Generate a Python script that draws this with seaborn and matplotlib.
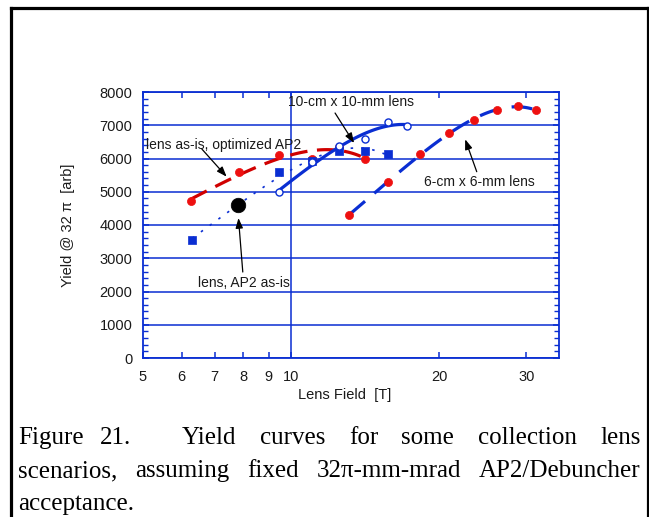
import numpy as np
import pandas as pd
import matplotlib
matplotlib.use("Agg")
import matplotlib.pyplot as plt
import seaborn as sns
from matplotlib.lines import Line2D
from matplotlib.ticker import FixedLocator, FixedFormatter, MultipleLocator, NullFormatter

# ---------------- data ----------------
opt_field = [6.27, 7.85, 9.46, 11.05, 12.53, 14.15]          # lens as-is, optimized AP2
opt_yield = [4720, 5600, 6100, 6000, 6350, 6000]
ten_field = [9.46, 11.05, 12.53, 14.15, 15.7, 17.2]          # 10-cm x 10-mm lens
ten_yield = [5000, 5900, 6380, 6580, 7110, 6990]
ap2_field = [6.3, 9.46, 11.05, 12.53, 14.15, 15.7]           # AP2 as-is scan
ap2_yield = [3560, 5580, 5930, 6230, 6230, 6150]
six_field = [13.12, 15.7, 18.3, 20.9, 23.5, 26.2, 28.8, 31.4]  # 6-cm x 6-mm lens
six_yield = [4300, 5300, 6130, 6770, 7160, 7460, 7580, 7450]
asis_field = [7.82]                                            # lens, AP2 as-is
asis_yield = [4600]

x_major_ticks = [10]
x_minor_ticks = [5, 6, 7, 8, 9, 20, 30]
x_minor_labels = ["5", "6", "7", "8", "9", "20", "30"]
y_ticks = [0, 1000, 2000, 3000, 4000, 5000, 6000, 7000, 8000]

BLUE = "#0A2ED2"
RED_LINE = "#D00000"
RED_DOT = "#EE1010"

sns.set_style("white")
plt.rcParams["font.family"] = ["Liberation Sans", "DejaVu Sans"]

W, H = 649, 517
fig = plt.figure(figsize=(W / 100, H / 100), dpi=100)
ax_l, ax_r, ax_t, ax_b = 142.7, 559.3, 92.0, 358.0
ax = fig.add_axes([ax_l / W, 1 - ax_b / H, (ax_r - ax_l) / W, (ax_b - ax_t) / H])
ax.set_xscale("log")
ax.set_xlim(5, 35)
ax.set_ylim(0, 8000)

# trend lines (polynomial fits, as in the original)
sns.regplot(x=np.array(opt_field), y=np.array(opt_yield), order=2, ci=None, scatter=False,
            truncate=True, ax=ax,
            line_kws=dict(color=RED_LINE, lw=2.3, ls=(0, (5.5, 3)), zorder=3))
sns.regplot(x=np.array(ap2_field), y=np.array(ap2_yield), order=2, ci=None, scatter=False,
            truncate=True, ax=ax,
            line_kws=dict(color=BLUE, lw=1.2, ls=(0, (1.5, 5)), zorder=3))
sns.regplot(x=np.array(ten_field), y=np.array(ten_yield), order=2, ci=None, scatter=False,
            truncate=True, ax=ax,
            line_kws=dict(color=BLUE, lw=2.3, ls="-", zorder=4))
sns.regplot(x=np.array(six_field), y=np.array(six_yield), order=2, ci=None, scatter=False,
            truncate=True, ax=ax,
            line_kws=dict(color=BLUE, lw=2.3, ls=(0, (6.5, 3.8)), zorder=4))

# markers
sns.scatterplot(x=opt_field, y=opt_yield, ax=ax, color=RED_DOT, marker="o", s=34,
                edgecolor=RED_DOT, linewidth=0.5, zorder=5)
sns.scatterplot(x=ap2_field, y=ap2_yield, ax=ax, color=BLUE, marker="s", s=38,
                edgecolor=BLUE, linewidth=0.5, zorder=6)
sns.scatterplot(x=ten_field, y=ten_yield, ax=ax, facecolor="white", marker="o", s=26,
                edgecolor=BLUE, linewidth=1.0, zorder=7)
sns.scatterplot(x=six_field, y=six_yield, ax=ax, color=RED_DOT, marker="o", s=34,
                edgecolor=RED_DOT, linewidth=0.5, zorder=6)
sns.scatterplot(x=asis_field, y=asis_yield, ax=ax, color="black", marker="o", s=110,
                edgecolor="black", linewidth=0.5, zorder=7)

# axes styling
for sp in ax.spines.values():
    sp.set_color(BLUE)
    sp.set_linewidth(1.3)
    sp.set_visible(True)

ax.xaxis.set_major_locator(FixedLocator(x_major_ticks))
ax.xaxis.set_major_formatter(FixedFormatter([str(v) for v in x_major_ticks]))
ax.xaxis.set_minor_locator(FixedLocator(x_minor_ticks))
ax.xaxis.set_minor_formatter(FixedFormatter(x_minor_labels))
ax.yaxis.set_major_locator(FixedLocator(y_ticks))
ax.yaxis.set_minor_locator(MultipleLocator(200))
ax.yaxis.set_minor_formatter(NullFormatter())

ax.tick_params(axis="x", which="both", direction="in", top=True, bottom=True,
               length=4, width=1.1, color=BLUE, labelsize=10.5, pad=8.5,
               labelcolor="#1a1a1a")
ax.tick_params(axis="y", which="major", direction="in", left=True, right=True,
               length=4, width=1.1, color=BLUE, labelsize=10.5, pad=7.5,
               labelcolor="#1a1a1a")
ax.tick_params(axis="y", which="minor", direction="in", left=True, right=True,
               length=3.5, width=1.0, color=BLUE)

ax.grid(True, axis="y", which="major", color=BLUE, lw=1.1)
ax.grid(True, axis="x", which="major", color=BLUE, lw=1.1)
ax.grid(False, which="minor")
ax.set_axisbelow(True)

ax.set_xlabel("Lens Field  [T]", fontsize=10.5, color="#1a1a1a")
ax.set_ylabel("Yield @ 32 \u03c0  [arb]", fontsize=10.5, color="#1a1a1a")
ax.xaxis.set_label_coords((345 - ax_l) / (ax_r - ax_l), (ax_b - 395) / (ax_b - ax_t))
ax.xaxis.label.set_va("center")
ax.yaxis.set_label_coords((68 - ax_l) / (ax_r - ax_l), 0.5)
ax.yaxis.label.set_va("center")

# annotations
ann_texts = ["10-cm x 10-mm lens", "lens as-is, optimized AP2", "lens, AP2 as-is", "6-cm x 6-mm lens"]
ann_text_xy = [(13.24, 7700), (7.30, 6406), (8.03, 2256), (24.07, 5293)]
ann_tail_xy = [(12.28, 7368), (6.59, 6286), (7.98, 2586), (23.8, 5603)]
ann_head_xy = [(13.42, 6466), (7.40, 5453), (7.82, 4210), (22.55, 6577)]
for txt, (tx, ty) in zip(ann_texts, ann_text_xy):
    ax.text(tx, ty, txt, fontsize=10, color="#1a1a1a", ha="center", va="center", zorder=8)
for (hx, hy), (sx, sy) in zip(ann_head_xy, ann_tail_xy):
    ax.annotate("", xy=(hx, hy), xytext=(sx, sy),
                arrowprops=dict(arrowstyle="-|>,head_length=0.6,head_width=0.22",
                                color="black", lw=0.9, shrinkA=0, shrinkB=0), zorder=8)

# frame around the figure
for xs, ys in [([11.3, 11.3], [7.5, 517]), ([11.3, 647.5], [7.5, 7.5]), ([647.5, 647.5], [7.5, 517])]:
    fig.add_artist(Line2D([x / W for x in xs], [1 - y / H for y in ys],
                          transform=fig.transFigure, color="black", lw=2.3,
                          solid_capstyle="projecting"))

# caption, justified
cap_font = dict(family=["Liberation Serif", "DejaVu Serif"], size=18, color="black")
fig.canvas.draw()
renderer = fig.canvas.get_renderer()


def word_widths(words):
    ws = []
    for w in words:
        t = fig.text(0, 0, w, **cap_font)
        ws.append(t.get_window_extent(renderer).width)
        t.remove()
    return ws


def put(word, x_px, base_px):
    fig.text(x_px / W, 1 - base_px / H, word, ha="left", va="baseline", **cap_font)


left, right = 18.0, 640.5
base = [444.0, 477.0, 510.0]

# line 1: "Figure 21." then a tab stop, then justified words
put("Figure", left, base[0])
put("21.", 100.0, base[0])
wb = ["Yield", "curves", "for", "some", "collection", "lens"]
tab = 182.0
wbw = word_widths(wb)
g = (right - tab - sum(wbw)) / (len(wb) - 1)
x = tab
for w, ww in zip(wb, wbw):
    put(w, x, base[0])
    x += ww + g

# line 2 justified
w2 = ["scenarios,", "assuming", "fixed", "32\u03c0-mm-mrad", "AP2/Debuncher"]
w2w = word_widths(w2)
g2 = (right - left - sum(w2w)) / (len(w2) - 1)
x = left
for w, ww in zip(w2, w2w):
    put(w, x, base[1])
    x += ww + g2

# line 3
put("acceptance.", left, base[2])

fig.savefig("out.png", dpi=100)
